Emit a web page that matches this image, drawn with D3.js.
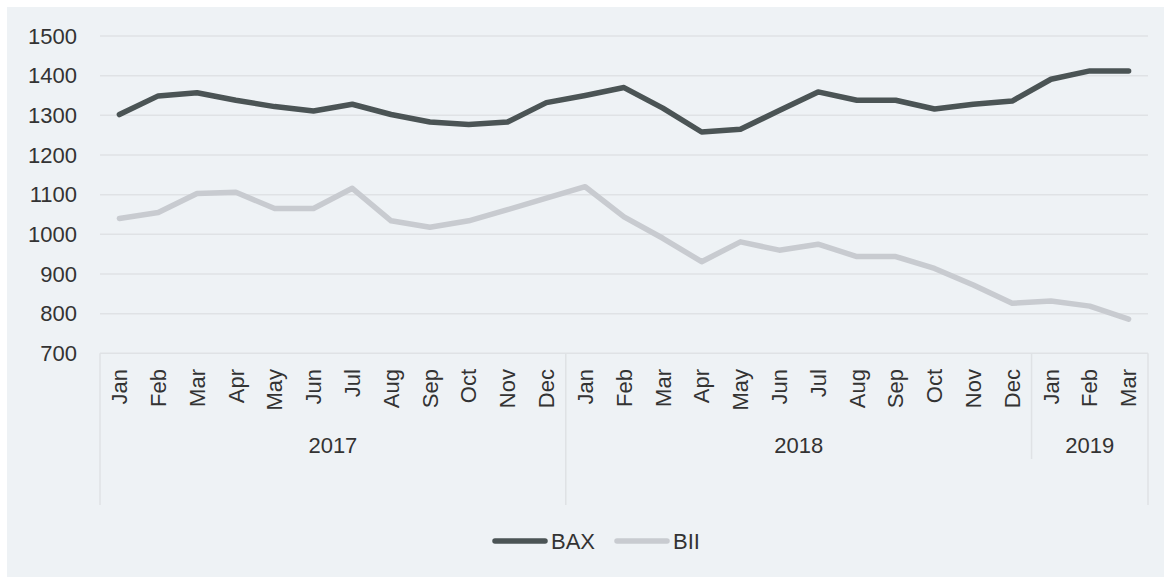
<!DOCTYPE html>
<html>
<head>
<meta charset="utf-8">
<script src="https://cdn.jsdelivr.net/npm/d3@7"></script>
<style>
  body { margin: 0; background: #fff; }
  text { font-family: "Liberation Sans", Arial, sans-serif; fill: #333; }
</style>
</head>
<body>
<script>
// chart values
var monthLabels = ["Jan","Feb","Mar","Apr","May","Jun","Jul","Aug","Sep","Oct","Nov","Dec",
                   "Jan","Feb","Mar","Apr","May","Jun","Jul","Aug","Sep","Oct","Nov","Dec",
                   "Jan","Feb","Mar"]
var yearLabels = ["2017", "2018", "2019"]
var yearSpans = [12, 12, 3]
var bax = [1302, 1349, 1357, 1338, 1322, 1311, 1328, 1302, 1283, 1277, 1283, 1332,
           1350, 1370, 1318, 1258, 1265, 1312, 1359, 1338, 1338, 1316, 1328, 1336,
           1391, 1412, 1412]
var bii = [1040, 1055, 1103, 1106, 1065, 1065, 1116, 1034, 1018, 1034, 1062, 1091,
           1120, 1044, 990, 931, 981, 960, 975, 944, 944, 914, 872, 826,
           832, 819, 786]
var yTicks = [700, 800, 900, 1000, 1100, 1200, 1300, 1400, 1500]
var seriesNames = ["BAX", "BII"]
var seriesColors = ["#4b5455", "#c8cbd0"]

var svgWidth = 1164
var svgHeight = 578
var plot = {left: 100, right: 1148, top: 36, bottom: 353.3}
var fontSize = 22

var svg = d3.select("body")
    .append("svg")
    .attr("width", svgWidth)
    .attr("height", svgHeight)

svg.append("rect")
    .attr("x", 7)
    .attr("y", 7)
    .attr("width", svgWidth - 7)
    .attr("height", svgHeight - 8)
    .attr("fill", "#eef2f5")

var x = d3.scaleBand().domain(d3.range(monthLabels.length)).range([plot.left, plot.right]).padding(0)
var y = d3.scaleLinear().domain([700, 1500]).range([plot.bottom, plot.top])
var cx = i => x(i) + x.bandwidth() / 2

// gridlines + y labels
svg.selectAll(".grid")
    .data(yTicks)
    .enter().append("line")
    .attr("class", "grid")
    .attr("x1", plot.left)
    .attr("x2", plot.right)
    .attr("y1", d => y(d))
    .attr("y2", d => y(d))
    .attr("stroke", "#dfe2e5")
    .attr("stroke-width", 1.5)

svg.selectAll(".ylab")
    .data(yTicks)
    .enter().append("text")
    .attr("class", "ylab")
    .attr("x", 77)
    .attr("y", d => y(d))
    .attr("dy", "0.35em")
    .attr("text-anchor", "end")
    .style("font-size", fontSize + "px")
    .text(d => d)

// month labels, rotated
svg.selectAll(".mlab")
    .data(monthLabels)
    .enter().append("text")
    .attr("class", "mlab")
    .attr("transform", (d, i) => "translate(" + cx(i) + "," + 369 + ") rotate(-90)")
    .attr("dy", "0.35em")
    .attr("text-anchor", "end")
    .style("font-size", fontSize + "px")
    .text(d => d)

// year groups
var starts = []
var acc = 0
yearSpans.forEach(n => { starts.push(acc); acc += n })

var sepIdx = [0].concat(starts.slice(1)).concat([monthLabels.length])
var sepBottom = [505, 505, 459, 505]
svg.selectAll(".sep")
    .data(sepIdx)
    .enter().append("line")
    .attr("class", "sep")
    .attr("x1", d => d < monthLabels.length ? x(d) : plot.right)
    .attr("x2", d => d < monthLabels.length ? x(d) : plot.right)
    .attr("y1", plot.bottom)
    .attr("y2", (d, i) => sepBottom[i])
    .attr("stroke", "#dfe2e5")
    .attr("stroke-width", 1.5)

svg.selectAll(".ylabel")
    .data(yearLabels)
    .enter().append("text")
    .attr("class", "ylabel")
    .attr("x", (d, i) => {
        var a = x(starts[i])
        var b = starts[i] + yearSpans[i] < monthLabels.length ? x(starts[i] + yearSpans[i]) : plot.right
        return (a + b) / 2
    })
    .attr("y", 453)
    .attr("text-anchor", "middle")
    .style("font-size", fontSize + "px")
    .text(d => d)

// lines
var line = d3.line().x((d, i) => cx(i)).y(d => y(d))
;[bii, bax].forEach((s, k) => {
    svg.append("path")
        .datum(s)
        .attr("d", line)
        .attr("fill", "none")
        .attr("stroke", seriesColors[1 - k])
        .attr("stroke-width", 5.5)
        .attr("stroke-linejoin", "round")
        .attr("stroke-linecap", "round")
})

// legend
var legendX = [495, 617]
seriesNames.forEach((name, i) => {
    svg.append("line")
        .attr("x1", legendX[i])
        .attr("x2", legendX[i] + 50)
        .attr("y1", 541)
        .attr("y2", 541)
        .attr("stroke", seriesColors[i])
        .attr("stroke-width", 5.5)
        .attr("stroke-linecap", "round")
    svg.append("text")
        .attr("x", legendX[i] + 56)
        .attr("y", 541)
        .attr("dy", "0.35em")
        .style("font-size", fontSize + "px")
        .text(name)
})
</script>
</body>
</html>
